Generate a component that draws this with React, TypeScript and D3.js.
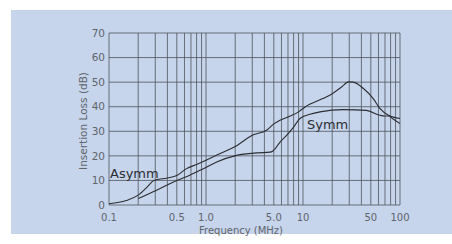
import * as d3 from 'd3';

// Insertion loss curves (frequency in MHz, loss in dB)
const freqAsymm = [0.1, 0.15, 0.2, 0.25, 0.29, 0.4, 0.5, 0.63, 0.8, 1.0, 1.4, 2.0, 3.0, 4.2, 5.0, 5.8, 7.3, 9.0, 10.5, 16, 20, 25, 29.4, 33, 42, 53, 62, 76, 100];
const lossAsymm = [0.5, 1.8, 4, 7.5, 10, 11, 12, 14.8, 16.5, 18.2, 21, 23.8, 28.4, 30.4, 33, 34.5, 36.1, 37.9, 39.9, 43.3, 45.3, 48, 50.1, 50, 47.4, 43.3, 39.3, 36.5, 35.2];

const freqSymm = [0.2, 0.31, 0.5, 0.68, 0.94, 1.29, 2.07, 3.33, 4.57, 4.9, 5.8, 6.8, 8.0, 9.3, 11.8, 15, 26, 45, 62, 70, 76, 85, 100];
const lossSymm = [2.6, 6, 10, 12.1, 14.8, 17.5, 20.2, 21.2, 21.5, 22, 25.6, 28.4, 31.7, 35.2, 36.9, 37.9, 38.8, 38.5, 36.5, 36.2, 36.2, 35, 33.1];

const xTicks = [0.1, 0.5, 1, 5, 10, 50, 100];
const xTickLabels = ['0.1', '0.5', '1.0', '5.0', '10', '50', '100'];
const yTicks = [0, 10, 20, 30, 40, 50, 60, 70];

const W = 452;
const H = 244;
const margin = { top: 33, right: 52, bottom: 39, left: 109 };

const font = '"DejaVu Sans", sans-serif';
const textColor = '#60646c';
const gridColor = '#4e535c';
const lineColor = '#2b2d31';

export default function App() {
  const x = d3.scaleLog().domain([0.1, 100]).range([margin.left, W - margin.right]);
  const y = d3.scaleLinear().domain([0, 70]).range([H - margin.bottom, margin.top]);

  // minor log grid: 1..9 in every decade
  const gridX: number[] = [];
  [0.1, 1, 10].forEach(dec => {
    for (let i = 1; i <= 9; i++) gridX.push(dec * i);
  });
  gridX.push(100);

  const line = d3.line<[number, number]>()
    .x(d => x(d[0]))
    .y(d => y(d[1]))
    .curve(d3.curveMonotoneX);

  const asymm = line(freqAsymm.map((f, i) => [f, lossAsymm[i]]));
  const symm = line(freqSymm.map((f, i) => [f, lossSymm[i]]));

  return (
    <div style={{ position: 'fixed', left: 0, top: 0 }}>
      <svg width={W} height={H} style={{ display: 'block', background: '#fff' }}>
        <rect x={11} y={10} width={W - 11} height={224} fill="#c6d5eb" />

        {yTicks.map(t => (
          <line key={'h' + t} x1={x(0.1)} x2={x(100)} y1={y(t)} y2={y(t)}
            stroke={gridColor} strokeWidth={0.8} />
        ))}
        {gridX.map(f => (
          <line key={'v' + f} x1={x(f)} x2={x(f)} y1={y(0)} y2={y(70)}
            stroke={gridColor} strokeWidth={0.8} />
        ))}

        {yTicks.map(t => (
          <text key={'yl' + t} x={x(0.1) - 4} y={y(t)} dy="0.35em" textAnchor="end"
            fontFamily={font} fontSize={10.5} fill={textColor}>{t}</text>
        ))}
        {xTicks.map((t, i) => (
          <text key={'xl' + t} x={x(t)} y={221} textAnchor="middle"
            fontFamily={font} fontSize={10} fill={textColor}>{xTickLabels[i]}</text>
        ))}

        <text x={241} y={234} textAnchor="middle" fontFamily={font} fontSize={10} fill={textColor}>
          Frequency (MHz)
        </text>
        <text transform="translate(87,121) rotate(-90)" textAnchor="middle"
          fontFamily={font} fontSize={10.5} fill={textColor}>
          Insertion Loss (dB)
        </text>

        <path d={asymm ?? ''} fill="none" stroke={lineColor} strokeWidth={1.1} />
        <path d={symm ?? ''} fill="none" stroke={lineColor} strokeWidth={1.1} />

        <text x={110} y={178} fontFamily={font} fontSize={13} fill={lineColor}>Asymm</text>
        <text x={307} y={129} fontFamily={font} fontSize={13} fill={lineColor}>Symm</text>
      </svg>
    </div>
  );
}
